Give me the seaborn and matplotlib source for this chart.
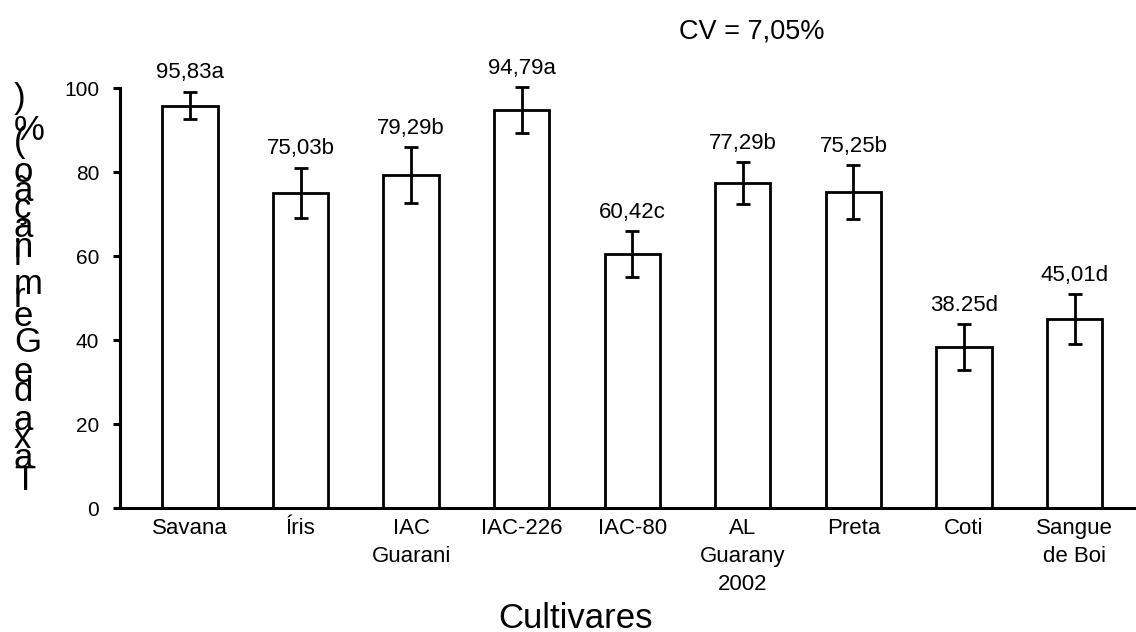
import numpy as np
import pandas as pd
import seaborn as sns
import matplotlib
matplotlib.use("Agg")
from matplotlib import pyplot as plt
from matplotlib import font_manager as fm
from matplotlib.ft2font import FT2Font

# Dados
cultivares = ["Savana", "Íris", "IAC\nGuarani", "IAC-226", "IAC-80",
              "AL\nGuarany\n2002", "Preta", "Coti", "Sangue\nde Boi"]
germinacao = [95.83, 75.03, 79.29, 94.79, 60.42, 77.29, 75.25, 38.25, 45.01]
erro = [3.3, 6.0, 6.7, 5.5, 5.5, 5.0, 6.4, 5.5, 6.0]
rotulos = ["95,83a", "75,03b", "79,29b", "94,79a", "60,42c",
           "77,29b", "75,25b", "38.25d", "45,01d"]
y_ticks = [0, 20, 40, 60, 80, 100]
ylabel = "Taxa de Germinação (%)"

sns.set_style("white")
plt.rcParams['font.family'] = ['Liberation Sans', 'DejaVu Sans']
plt.rcParams['text.color'] = 'black'
plt.rcParams['xtick.color'] = 'black'
plt.rcParams['ytick.color'] = 'black'

df = pd.DataFrame({"cultivar": cultivares, "taxa": germinacao})

W, H = 1136, 632
fig = plt.figure(figsize=(W / 100, H / 100), dpi=100)
fig.patch.set_facecolor("white")
ax = fig.add_axes([120 / W, 124 / H, 1016 / W, 420 / H])

sns.barplot(data=df, x="cultivar", y="taxa", order=cultivares, color="white",
            saturation=1, edgecolor="black", linewidth=2, width=0.5,
            errorbar=None, ax=ax)
for p in ax.patches:
    p.set_clip_on(False)

# Barras de erro
ax.errorbar(np.arange(len(cultivares)), germinacao, yerr=erro, fmt="none",
            ecolor="black", elinewidth=2, capsize=5, capthick=2, clip_on=False)

# Rotulos de valor
for i, txt in enumerate(rotulos):
    ax.annotate(txt, (i, germinacao[i] + erro[i]), xytext=(0, 13.5),
                textcoords="offset points", ha="center", va="center",
                fontsize=16, annotation_clip=False)

xmin, xmax = -0.633, 8.556
ax.set_xlim(xmin, xmax)
ax.set_ylim(0, 100)
ax.set_yticks(y_ticks)
ax.set_xlabel("")
ax.set_ylabel("")
sns.despine(ax=ax)
for s in ["left", "bottom"]:
    ax.spines[s].set_linewidth(2.2)
    ax.spines[s].set_color("black")

ax.tick_params(axis="x", which="major", length=0, pad=7, labelsize=16)
ax.set_xticks([xmin], minor=True)
ax.tick_params(axis="x", which="minor", length=5, width=2.2, direction="out")
ax.tick_params(axis="y", length=5, width=2.2, direction="out", pad=10,
               labelsize=15, left=True)
for t in ax.get_xticklabels():
    t.set_linespacing(1.45)

# Titulo do eixo x e CV
fig.text(576 / W, 4 / H, "Cultivares", fontsize=25, ha="center", va="baseline")
fig.text(752 / W, 1 - 38 / H, "CV = 7,05%", fontsize=19.5, ha="center",
         va="baseline")

# Rotulo do eixo y, letras empilhadas
fp = fm.FontProperties(family="Liberation Sans")
ft = FT2Font(fm.findfont(fp), hinting_factor=1)
ft.set_size(25, 72)
pos = 0.0
for ch in ylabel:
    if ch != " ":
        fig.text(14 / W, (H - 490 + pos * 100 / 72) / H, ch, fontsize=25,
                 ha="left", va="baseline")
    pos += ft.load_char(ord(ch)).horiAdvance / 64

plt.savefig("out.png", dpi=100, facecolor="white")
